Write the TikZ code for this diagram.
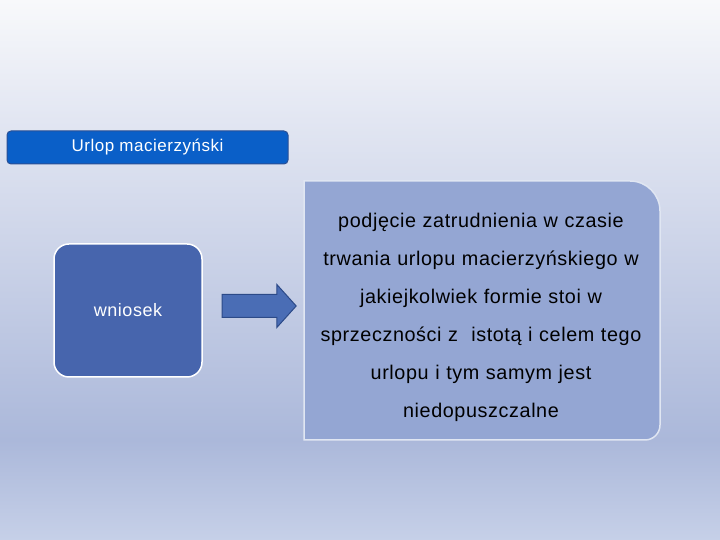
\documentclass[tikz,border=0pt]{standalone}
\usepackage{fontspec}
\setmainfont{Liberation Sans}
\usepackage{tikz}
\usetikzlibrary{shapes.arrows, positioning}
\definecolor{bgtop}{HTML}{F8F9FB}
\definecolor{bgmid}{HTML}{E2E6F2}
\definecolor{bglow}{HTML}{ABB8DA}
\definecolor{bgbot}{HTML}{C6D0E8}
\definecolor{titleblue}{HTML}{0A5FC8}
\definecolor{titleline}{HTML}{2B4F94}
\definecolor{boxblue}{HTML}{4765AD}
\definecolor{arrowblue}{HTML}{4A6DB5}
\definecolor{arrowline}{HTML}{2C4A88}
\definecolor{notefill}{HTML}{94A6D3}
\definecolor{noteline}{HTML}{E0E6F2}
% stops between 25bp and 75bp, bottom to top
\pgfdeclareverticalshading{slidebg}{100bp}{color(0bp)=(bgbot); color(25bp)=(bgbot); color(34.26bp)=(bglow); color(63.89bp)=(bgmid); color(75bp)=(bgtop); color(100bp)=(bgtop)}
\tikzstyle{title} = [draw=titleline, fill=titleblue, rounded corners=4pt, line width=1pt, text=white, font=\fontsize{17}{19}\selectfont\addfontfeatures{LetterSpace=3}, minimum width=281pt, minimum height=33pt]
\tikzstyle{block} = [draw=white, fill=boxblue, rounded corners=15pt, line width=1.5pt, text=white, font=\fontsize{18}{21}\selectfont\addfontfeatures{LetterSpace=3}, minimum width=148pt, minimum height=133pt]
\tikzstyle{bigarrow} = [single arrow, draw=arrowline, fill=arrowblue, line width=1pt, inner xsep=0pt, inner ysep=11pt, minimum height=74pt, single arrow head extend=10pt, single arrow tip angle=96]
\tikzstyle{note} = [align=center, font=\fontsize{19.8}{38}\selectfont\addfontfeatures{LetterSpace=3}, text width=360pt]

\begin{document}
\begin{tikzpicture}[x=1pt,y=1pt]
\shade[shading=slidebg] (0,0) rectangle (720,540);
\useasboundingbox (0,0) rectangle (720,540);
% box on the right
\draw[fill=notefill, draw=noteline, line width=1.5pt] (304,359) -- (630,359) arc (90:0:30) -- (660,115) arc (0:-90:15) -- (304,100) -- cycle;
\node[title] (urlop) at (147.5,392.5) {Urlop macierzyński};
\node[block] (wniosek) at (128,229.5) {wniosek};
\node[bigarrow] (strzalka) at (254,234) {};
\node[note] (opis) at (481,223) {podjęcie zatrudnienia w czasie\\trwania urlopu macierzyńskiego w\\jakiejkolwiek formie stoi w\\sprzeczności z\ \ istotą i celem tego\\urlopu i tym samym jest\\niedopuszczalne};
\end{tikzpicture}
\end{document}
